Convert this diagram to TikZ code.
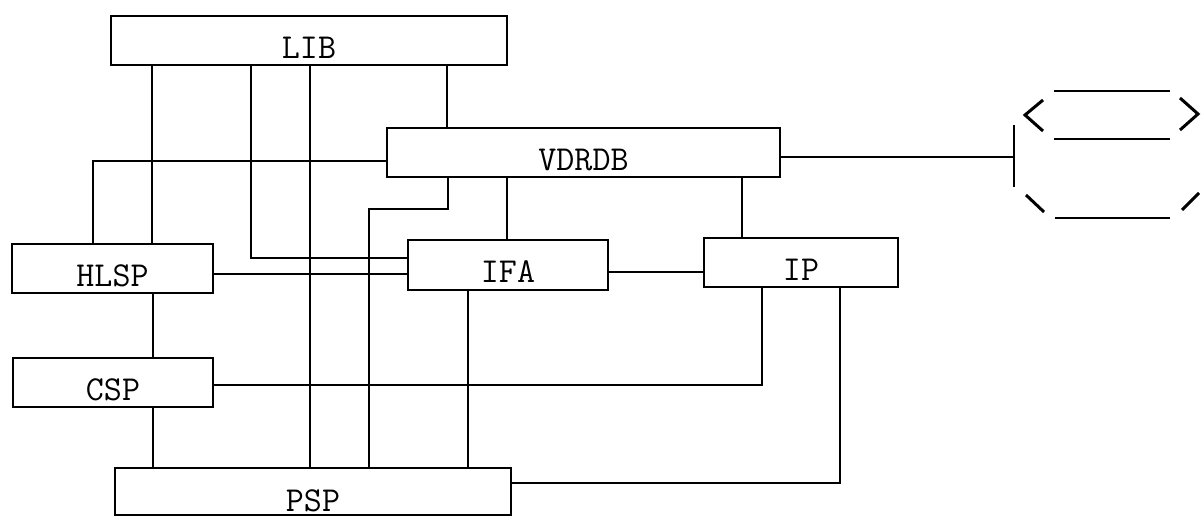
\documentclass[tikz,border=0pt]{standalone}
\begin{document}
\begin{tikzpicture}[x=0.5pt,y=-0.5pt,
  box/.style={draw, line width=0.9pt, inner sep=0pt, rectangle,
    font=\ttfamily\fontsize{17.5}{20}\selectfont, text height=17.7pt, text depth=0pt},
  conn/.style={line width=0.8pt},
  chev/.style={line width=1.5pt},
  flat/.style={line width=0.9pt}]
\useasboundingbox (0,0) rectangle (1203,517);
% boxes
\node[box, minimum width=198pt, minimum height=24.5pt] (lib) at (309,40.5) {LIB};
\node[box, minimum width=196.5pt, minimum height=24.5pt] (vdrdb) at (583.5,152.5) {VDRDB};
\node[box, minimum width=100.5pt, minimum height=24.5pt] (hlsp) at (112.5,268.5) {HLSP};
\node[box, minimum width=100pt, minimum height=25pt] (ifa) at (508,265) {IFA};
\node[box, minimum width=97pt, minimum height=24.5pt] (ip) at (801,262.5) {IP};
\node[box, minimum width=100pt, minimum height=24.5pt] (csp) at (113,382.5) {CSP};
\node[box, minimum width=198pt, minimum height=23.5pt, text height=20.4pt] (psp) at (313,491.5) {PSP};
% connectors
\draw[conn] (lib.south -| 152,0) -- (hlsp.north -| 152,0);
\draw[conn] (lib.south -| 251,0) |- (ifa.west |- 0,258);
\draw[conn] (lib.south -| 310,0) -- (psp.north -| 310,0);
\draw[conn] (lib.south -| 447,0) -- (vdrdb.north -| 447,0);
\draw[conn] (vdrdb.west |- 0,161) -| (hlsp.north -| 93,0);
\draw[conn] (vdrdb.south -| 448,0) -- (448,209) -| (psp.north -| 369,0);
\draw[conn] (vdrdb.south -| 507,0) -- (ifa.north -| 507,0);
\draw[conn] (vdrdb.south -| 742,0) -- (ip.north -| 742,0);
\coordinate (bar) at (1014,157);
\draw[conn] (vdrdb.east |- bar) -- (bar);
\draw[conn] (hlsp.east |- 0,274) -- (ifa.west |- 0,274);
\draw[conn] (ifa.east |- 0,272) -- (ip.west |- 0,272);
\draw[conn] (ifa.south -| 468,0) -- (psp.north -| 468,0);
\draw[conn] (ip.south -| 762,0) |- (csp.east |- 0,385);
\draw[conn] (ip.south -| 840,0) |- (psp.east |- 0,483);
\draw[conn] (hlsp.south -| 153,0) -- (csp.north -| 153,0);
\draw[conn] (csp.south -| 153,0) -- (psp.north -| 153,0);
% vertical bar
\draw[conn] (1014,125) -- (1014,187);
% display symbol
\draw[flat] (1054,91) -- (1170,91);
\draw[flat] (1054,139) -- (1170,139);
\draw[flat] (1055,218) -- (1170,218);
\draw[chev] (1043,100) -- (1025,115) -- (1043,131);
\draw[chev] (1180,98) -- (1198,114) -- (1180,130);
\draw[chev] (1026,195) -- (1044,212);
\draw[chev] (1182,210) -- (1199,193);
\end{tikzpicture}
\end{document}
